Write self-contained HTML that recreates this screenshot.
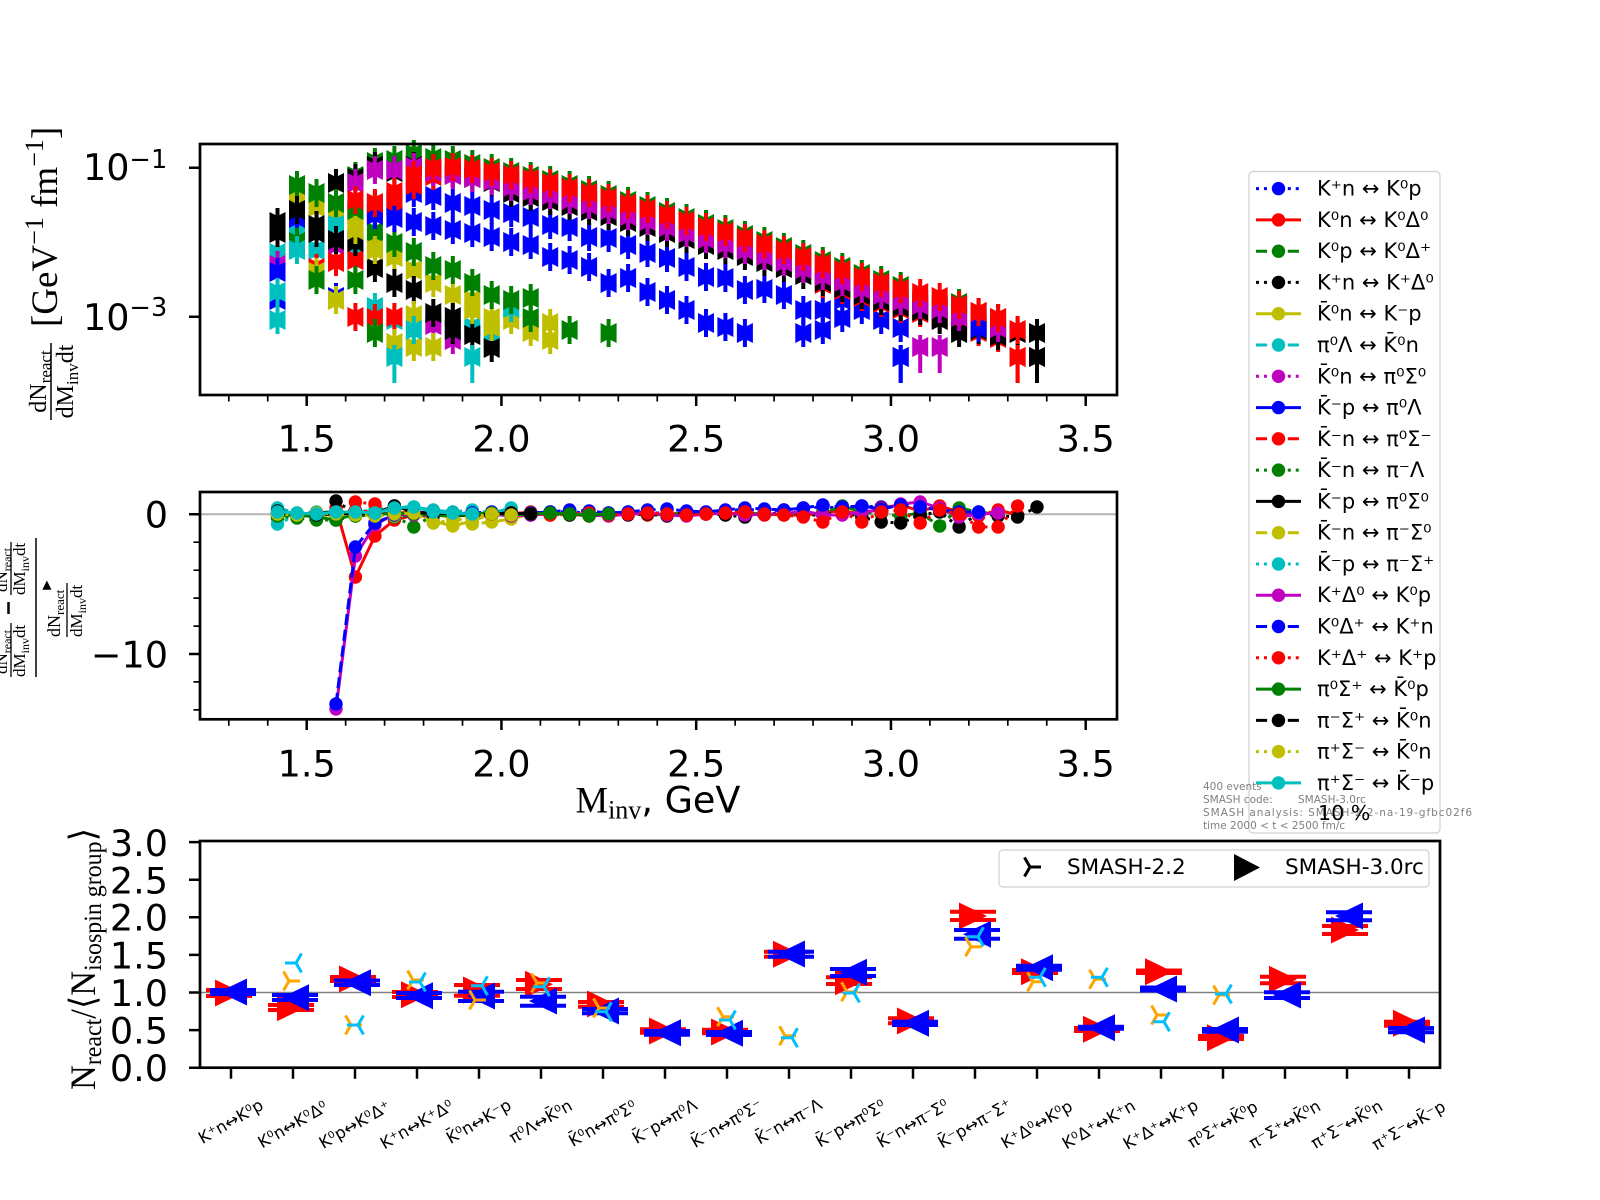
<!DOCTYPE html>
<html><head><meta charset="utf-8">
<style>
html,body{margin:0;padding:0;background:#fff;}
svg{display:block;}
.t{font-family:"DejaVu Sans","Liberation Sans",sans-serif;}
.s{font-family:"Liberation Serif","DejaVu Serif",serif;}
.p{fill:none;stroke:none;}
.l{fill:none;stroke-width:3;stroke-linejoin:round;}
.dot{stroke-dasharray:3 4.95;}
.dash{stroke-dasharray:11.1 4.8;}
.tb{marker-start:url(#mb);marker-mid:url(#mb);marker-end:url(#mb);}
.tr{marker-start:url(#mr);marker-mid:url(#mr);marker-end:url(#mr);}
.tg{marker-start:url(#mg);marker-mid:url(#mg);marker-end:url(#mg);}
.tk{marker-start:url(#mk);marker-mid:url(#mk);marker-end:url(#mk);}
.ty{marker-start:url(#my);marker-mid:url(#my);marker-end:url(#my);}
.tc{marker-start:url(#mc);marker-mid:url(#mc);marker-end:url(#mc);}
.tm{marker-start:url(#mm);marker-mid:url(#mm);marker-end:url(#mm);}
.Lb{marker-start:url(#lb);marker-mid:url(#lb);marker-end:url(#lb);}
.Lr{marker-start:url(#lr);marker-mid:url(#lr);marker-end:url(#lr);}
.Lk{marker-start:url(#lk);marker-mid:url(#lk);marker-end:url(#lk);}
.Lc{marker-start:url(#lc);marker-mid:url(#lc);marker-end:url(#lc);}
.Lm{marker-start:url(#lm);marker-mid:url(#lm);marker-end:url(#lm);}
.cb{stroke:#0000ff;marker-start:url(#qb);marker-mid:url(#qb);marker-end:url(#qb);}
.cr{stroke:#ff0000;marker-start:url(#qr);marker-mid:url(#qr);marker-end:url(#qr);}
.cg{stroke:#008000;marker-start:url(#qg);marker-mid:url(#qg);marker-end:url(#qg);}
.ck{stroke:#000000;marker-start:url(#qk);marker-mid:url(#qk);marker-end:url(#qk);}
.cy{stroke:#bfbf00;marker-start:url(#qy);marker-mid:url(#qy);marker-end:url(#qy);}
.cc{stroke:#00bfbf;marker-start:url(#qc);marker-mid:url(#qc);marker-end:url(#qc);}
.cm{stroke:#bf00bf;marker-start:url(#qm);marker-mid:url(#qm);marker-end:url(#qm);}
</style></head><body>
<svg width="1600" height="1200" viewBox="0 0 1600 1200" xmlns="http://www.w3.org/2000/svg">
<rect width="1600" height="1200" fill="#fff"/>
<defs>
<path id="bw" d="M-8,-10L0,-6L8,-10L8,10L0,6L-8,10Z"/>
<marker id="mb" viewBox="-10 -20 20 40" markerWidth="20" markerHeight="40" refX="0" refY="0" markerUnits="userSpaceOnUse" overflow="visible"><g fill="#0000ff"><use href="#bw"/><rect x="-2" y="-14" width="4" height="28"/></g></marker>
<marker id="mr" viewBox="-10 -20 20 40" markerWidth="20" markerHeight="40" refX="0" refY="0" markerUnits="userSpaceOnUse" overflow="visible"><g fill="#ff0000"><use href="#bw"/><rect x="-2" y="-14" width="4" height="28"/></g></marker>
<marker id="mg" viewBox="-10 -20 20 40" markerWidth="20" markerHeight="40" refX="0" refY="0" markerUnits="userSpaceOnUse" overflow="visible"><g fill="#008000"><use href="#bw"/><rect x="-2" y="-14" width="4" height="28"/></g></marker>
<marker id="mk" viewBox="-10 -20 20 40" markerWidth="20" markerHeight="40" refX="0" refY="0" markerUnits="userSpaceOnUse" overflow="visible"><g fill="#000000"><use href="#bw"/><rect x="-2" y="-14" width="4" height="28"/></g></marker>
<marker id="my" viewBox="-10 -20 20 40" markerWidth="20" markerHeight="40" refX="0" refY="0" markerUnits="userSpaceOnUse" overflow="visible"><g fill="#bfbf00"><use href="#bw"/><rect x="-2" y="-14" width="4" height="28"/></g></marker>
<marker id="mc" viewBox="-10 -20 20 40" markerWidth="20" markerHeight="40" refX="0" refY="0" markerUnits="userSpaceOnUse" overflow="visible"><g fill="#00bfbf"><use href="#bw"/><rect x="-2" y="-14" width="4" height="28"/></g></marker>
<marker id="mm" viewBox="-10 -20 20 40" markerWidth="20" markerHeight="40" refX="0" refY="0" markerUnits="userSpaceOnUse" overflow="visible"><g fill="#bf00bf"><use href="#bw"/><rect x="-2" y="-14" width="4" height="28"/></g></marker>
<marker id="lb" viewBox="-10 -20 20 60" markerWidth="20" markerHeight="60" refX="0" refY="0" markerUnits="userSpaceOnUse" overflow="visible"><g fill="#0000ff"><use href="#bw"/><rect x="-2" y="-12" width="4" height="38"/></g></marker>
<marker id="lr" viewBox="-10 -20 20 60" markerWidth="20" markerHeight="60" refX="0" refY="0" markerUnits="userSpaceOnUse" overflow="visible"><g fill="#ff0000"><use href="#bw"/><rect x="-2" y="-12" width="4" height="38"/></g></marker>
<marker id="lk" viewBox="-10 -20 20 60" markerWidth="20" markerHeight="60" refX="0" refY="0" markerUnits="userSpaceOnUse" overflow="visible"><g fill="#000000"><use href="#bw"/><rect x="-2" y="-12" width="4" height="38"/></g></marker>
<marker id="lc" viewBox="-10 -20 20 60" markerWidth="20" markerHeight="60" refX="0" refY="0" markerUnits="userSpaceOnUse" overflow="visible"><g fill="#00bfbf"><use href="#bw"/><rect x="-2" y="-12" width="4" height="38"/></g></marker>
<marker id="lm" viewBox="-10 -20 20 60" markerWidth="20" markerHeight="60" refX="0" refY="0" markerUnits="userSpaceOnUse" overflow="visible"><g fill="#bf00bf"><use href="#bw"/><rect x="-2" y="-12" width="4" height="38"/></g></marker>
<marker id="qb" viewBox="-8 -8 16 16" markerWidth="16" markerHeight="16" refX="0" refY="0" markerUnits="userSpaceOnUse"><circle r="6.7" fill="#0000ff"/></marker>
<marker id="qr" viewBox="-8 -8 16 16" markerWidth="16" markerHeight="16" refX="0" refY="0" markerUnits="userSpaceOnUse"><circle r="6.7" fill="#ff0000"/></marker>
<marker id="qg" viewBox="-8 -8 16 16" markerWidth="16" markerHeight="16" refX="0" refY="0" markerUnits="userSpaceOnUse"><circle r="6.7" fill="#008000"/></marker>
<marker id="qk" viewBox="-8 -8 16 16" markerWidth="16" markerHeight="16" refX="0" refY="0" markerUnits="userSpaceOnUse"><circle r="6.7" fill="#000000"/></marker>
<marker id="qy" viewBox="-8 -8 16 16" markerWidth="16" markerHeight="16" refX="0" refY="0" markerUnits="userSpaceOnUse"><circle r="6.7" fill="#bfbf00"/></marker>
<marker id="qc" viewBox="-8 -8 16 16" markerWidth="16" markerHeight="16" refX="0" refY="0" markerUnits="userSpaceOnUse"><circle r="6.7" fill="#00bfbf"/></marker>
<marker id="qm" viewBox="-8 -8 16 16" markerWidth="16" markerHeight="16" refX="0" refY="0" markerUnits="userSpaceOnUse"><circle r="6.7" fill="#bf00bf"/></marker>
<path id="TR" d="M-14,-13.5L14,0L-14,13.5Z" fill="#ff0000"/>
<path id="TL" d="M14,-13.5L-14,0L14,13.5Z" fill="#0000ff"/>
<path id="TO" d="M0,0H11M0,0L-5.5,-9.5M0,0L-5.5,9.5" stroke="#ffa500" stroke-width="3" fill="none"/>
<path id="TC" d="M0,0H-11M0,0L5.5,-9.5M0,0L5.5,9.5" stroke="#00bfff" stroke-width="3" fill="none"/>
</defs>

<!-- ================= TOP PLOT ================= -->
<g>
<polyline class="p tb" points="374.9,205 394.4,200 413.8,193 433.3,196 452.8,203 472.3,206 491.7,210 511.2,213 530.7,217 550.2,225 569.6,227 589.1,237 608.6,238 628.1,245 647.5,253 667,258 686.5,267 706,277 725.4,278 744.9,290 764.4,289 783.9,295 803.3,310 822.8,310 842.3,300 861.8,310 881.2,320 900.7,328"/>
<polyline class="p tr" points="355.4,213 374.9,215 394.4,205 413.8,185 433.3,176 452.8,173 472.3,175 491.7,178 511.2,181 530.7,185 550.2,189 569.6,194 589.1,199 608.6,204 628.1,210 647.5,215 667,221 686.5,227 706,233 725.4,238 744.9,244 764.4,250 783.9,256 803.3,263 822.8,284 842.3,290 861.8,297 881.2,303 900.7,309 920.2,313 939.7,317 959.1,325 978.6,332 998.1,338"/>
<polyline class="p tg" points="355.4,176 374.9,162 394.4,160 413.8,154 433.3,158 452.8,160 472.3,164 491.7,168 511.2,172 530.7,176 550.2,180 569.6,185 589.1,190 608.6,195 628.1,201 647.5,206 667,212 686.5,218 706,224 725.4,229 744.9,235 764.4,241 783.9,247 803.3,254 822.8,261 842.3,267 861.8,274 881.2,280 900.7,286 920.2,300 939.7,305 959.1,303 978.6,312 998.1,318"/>
<polyline class="p tk" points="336,183 355.4,178 374.9,166 394.4,172 413.8,166 433.3,170 452.8,174 472.3,178 491.7,182 511.2,193 530.7,197 550.2,201 569.6,206 589.1,211 608.6,216 628.1,222 647.5,227 667,233 686.5,239 706,245 725.4,250 744.9,256 764.4,262 783.9,268 803.3,275 822.8,282 842.3,288 861.8,295 881.2,301 900.7,307 920.2,311 939.7,320 959.1,333 978.6,330 998.1,336 1017.6,333 1037,333"/>
<polyline class="p ty" points="297,198 316.5,207 336,215 355.4,215 374.9,243 394.4,257 413.8,270 433.3,283 452.8,295 472.3,300 491.7,318 511.2,320 530.7,323 550.2,323"/>
<polyline class="p tc" points="277.5,253 297,228 316.5,250 336,225 355.4,255 374.9,307 394.4,320 472.3,327 491.7,338 511.2,308"/>
<polyline class="p tm" points="277.5,265 336,245 433.3,325 452.8,340"/>
<polyline class="p tb" points="277.5,272 277.5,300 297,218 336,297 355.4,238"/>
<polyline class="p tr" points="316.5,268 336,262 355.4,260 355.4,317 374.9,318 394.4,317"/>
<polyline class="p tg" points="277.5,230 297,185 316.5,193 336,203 355.4,210 374.9,232 394.4,243 413.8,252 433.3,266 452.8,270 472.3,283 491.7,295 530.7,298 569.6,330 608.6,333"/>
<polyline class="p tk" points="277.5,222 297,210 316.5,225 336,240 355.4,242 374.9,268 394.4,283 413.8,290 433.3,313 452.8,317 472.3,335 491.7,348"/>
<polyline class="p ty" points="316.5,272 336,300 394.4,343 413.8,315 433.3,347 491.7,327 530.7,332 550.2,340 413.8,347"/>
<polyline class="p tc" points="277.5,292 413.8,330"/>
<polyline class="p tm" points="355.4,183 374.9,170 394.4,170 413.8,167 433.3,172 452.8,175 472.3,178 491.7,181 511.2,187 530.7,191 550.2,195 569.6,200 589.1,205 608.6,210 628.1,216 647.5,221 667,227 686.5,233 706,239 725.4,244 744.9,250 764.4,256 783.9,262 803.3,269 822.8,276 842.3,282 861.8,289 881.2,295 900.7,301 920.2,305 939.7,309 959.1,317 978.6,324 998.1,328"/>
<polyline class="p tb" points="374.9,215 394.4,218 413.8,222 433.3,226 452.8,230 472.3,233 491.7,237 511.2,242 530.7,245 550.2,257 569.6,260 589.1,267 608.6,283 628.1,278 647.5,292 667,300 686.5,310 706,323 725.4,327 744.9,333 803.3,333 822.8,330 842.3,318 978.6,328"/>
<polyline class="p tr" points="355.4,200 374.9,203 394.4,192 413.8,175 433.3,168 452.8,167 472.3,169 491.7,172 511.2,175 530.7,179 550.2,183 569.6,188 589.1,193 608.6,198 628.1,204 647.5,209 667,215 686.5,221 706,227 725.4,232 744.9,238 764.4,244 783.9,250 803.3,257 822.8,264 842.3,270 861.8,277 881.2,283 900.7,289 920.2,293 939.7,297 959.1,305 978.6,312 998.1,318 1017.6,330"/>
<polyline class="p tg" points="297,242 316.5,280 355.4,280 374.9,333 530.7,318 511.2,300"/>
<polyline class="p tk" points="277.5,233 316.5,233 452.8,330"/>
<polyline class="p ty" points="355.4,230 374.9,250 472.3,310"/>
<polyline class="p tc" points="277.5,320 297,250"/>
<polyline class="p Lc" points="394.4,357 472.3,357"/>
<polyline class="p Lb" points="900.7,357 900.7,357"/>
<polyline class="p Lr" points="1017.6,357 1017.6,357"/>
<polyline class="p Lk" points="1037,357 1037,357"/>
<polyline class="p Lm" points="920.2,347 939.7,347"/>
</g>
<!-- top axes -->
<rect x="200" y="144" width="917" height="251" fill="none" stroke="#000" stroke-width="2.7"/>
<path d="M189,167.7H200M189,316.7H200" stroke="#000" stroke-width="2.5"/>
<path d="M306.7,395V406M501.45,395V406M696.2,395V406M890.95,395V406M1085.7,395V406" stroke="#000" stroke-width="2.5"/>
<path d="M228.8,395V401.5M267.75,395V401.5M345.65,395V401.5M384.6,395V401.5M423.55,395V401.5M462.5,395V401.5M540.4,395V401.5M579.35,395V401.5M618.3,395V401.5M657.25,395V401.5M735.15,395V401.5M774.1,395V401.5M813.05,395V401.5M852,395V401.5M929.9,395V401.5M968.85,395V401.5M1007.8,395V401.5M1046.75,395V401.5" stroke="#000" stroke-width="1.7"/>
<g class="t" font-size="36.6" fill="#000">
<text x="83" y="180">10<tspan font-size="25.6" dy="-12">−1</tspan></text>
<text x="83" y="330">10<tspan font-size="25.6" dy="-14">−3</tspan></text>
<g text-anchor="middle">
<text x="306.7" y="451.4">1.5</text><text x="501.45" y="451.4">2.0</text><text x="696.2" y="451.4">2.5</text><text x="890.95" y="451.4">3.0</text><text x="1085.7" y="451.4">3.5</text>
</g>
</g>
<!-- top ylabel -->
<g class="s" fill="#000">
<text font-size="24" text-anchor="middle" transform="translate(46,381.5) rotate(-90)">dN<tspan font-size="17" dy="5">react</tspan></text>
<line x1="51" y1="343" x2="51" y2="420" stroke="#000" stroke-width="1.5"/>
<text font-size="24" text-anchor="middle" transform="translate(73,381.5) rotate(-90)">dM<tspan font-size="17" dy="5">inv</tspan><tspan dy="-5">dt</tspan></text>
<text font-size="37" transform="translate(57,327) rotate(-90)">[GeV<tspan font-size="26" dy="-14">−1</tspan><tspan dy="14"> fm</tspan><tspan font-size="26" dy="-14">−1</tspan><tspan dy="14">]</tspan></text>
</g>

<!-- ================= MIDDLE PLOT ================= -->
<line x1="200" y1="514.3" x2="1117" y2="514.3" stroke="#b4b4b4" stroke-width="2"/>
<g>
<polyline class="l cb dot" points="355.4,512 374.9,514 394.4,513 413.8,514 433.3,512 452.8,515 472.3,513 491.7,514 511.2,512 530.7,515 550.2,513 569.6,511 589.1,514 608.6,515 628.1,513 647.5,512 667,514 686.5,515 706,513 725.4,511 744.9,509 764.4,511 783.9,510 803.3,508 822.8,507 842.3,508 861.8,506 881.2,507 900.7,505"/>
<polyline class="l cr" points="336,508 355.4,577 374.9,536 394.4,520 413.8,515 433.3,512 452.8,514 472.3,513 491.7,515 511.2,514 530.7,512 550.2,513 569.6,514 589.1,516 608.6,514 628.1,513 647.5,515 667,514 686.5,513 706,512 725.4,514 744.9,513 764.4,515 783.9,514 803.3,516 822.8,512 842.3,511 861.8,514 881.2,508 900.7,505 920.2,511 939.7,506 959.1,512 978.6,516 998.1,510 1017.6,515"/>
<polyline class="l cg dash" points="355.4,516 374.9,515 394.4,517 413.8,515 433.3,514 452.8,513 472.3,515 491.7,514 511.2,516 530.7,513 550.2,514 569.6,515 589.1,513 608.6,514 628.1,512 647.5,514 667,515 686.5,513 706,514 725.4,512 744.9,513 764.4,514 783.9,515 803.3,514 822.8,513 842.3,506 861.8,512 881.2,514 900.7,516 920.2,513 939.7,526 959.1,508 978.6,512 998.1,514"/>
<polyline class="l ck dot" points="336,501 355.4,514 374.9,515 394.4,506 413.8,510 433.3,513 452.8,516 472.3,514 491.7,515 511.2,513 530.7,514 550.2,512 569.6,515 589.1,514 608.6,513 628.1,515 647.5,514 667,516 686.5,513 706,514 725.4,515 744.9,517 764.4,514 783.9,513 803.3,515 822.8,515 842.3,512 861.8,517 881.2,522 900.7,523 920.2,515 939.7,512 959.1,527 978.6,513 998.1,516 1017.6,517 1037,507"/>
<polyline class="l cy" points="277.5,514 297,514 316.5,516 336,514 355.4,514 374.9,515 394.4,513 413.8,512 433.3,521 452.8,526 472.3,521 491.7,514 511.2,516 530.7,513 550.2,514"/>
<polyline class="l cc dash" points="277.5,508 297,513 316.5,512 336,512 355.4,512 374.9,510 394.4,507 413.8,507 433.3,510 452.8,512 472.3,510 491.7,513 511.2,508"/>
<polyline class="l cm dot" points="277.5,515 297,514 316.5,513 336,515 355.4,514 374.9,516 394.4,514 413.8,513 433.3,515 452.8,514 472.3,516 491.7,515 511.2,513 530.7,514"/>
<polyline class="l cb" points="277.5,514 297,515 316.5,514 336,513 355.4,515 374.9,514 394.4,513 413.8,515 433.3,514 452.8,513 472.3,514 491.7,515"/>
<polyline class="l cr dash" points="316.5,514 336,512 355.4,510 374.9,513 394.4,514 413.8,513 433.3,512 452.8,514 472.3,513"/>
<polyline class="l cg dot" points="277.5,518 297,518 316.5,520 336,520 355.4,516 374.9,514 394.4,516 413.8,527 433.3,515 452.8,514 472.3,516 491.7,515 511.2,514 530.7,513 550.2,515 569.6,514 589.1,516 608.6,515"/>
<polyline class="l ck" points="277.5,511 297,514 316.5,513 336,512 355.4,514 374.9,513 394.4,506 413.8,512 433.3,514 452.8,516 472.3,515 491.7,514 511.2,513 530.7,514"/>
<polyline class="l cy dash" points="277.5,515 297,513 316.5,514 336,515 355.4,514 374.9,513 394.4,516 413.8,512 433.3,515 452.8,517 472.3,524 491.7,522 511.2,519 530.7,514 550.2,515"/>
<polyline class="l cc dot" points="277.5,524 297,515 316.5,514 336,513 355.4,514 374.9,512 394.4,513 413.8,514 433.3,515 452.8,513 472.3,514"/>
<polyline class="l cm" points="336,709 355.4,556 374.9,525 394.4,514 413.8,515 433.3,516 452.8,514 472.3,515 491.7,514 511.2,516 530.7,515 550.2,514 569.6,513 589.1,515 608.6,516 628.1,514 647.5,513 667,515 686.5,516 706,514 725.4,513 744.9,515 764.4,514 783.9,514 803.3,511 822.8,515 842.3,515 861.8,512 881.2,510 900.7,504 920.2,502 939.7,508 959.1,517 978.6,514 998.1,513"/>
<polyline class="l cb dash" points="336,704 355.4,547 374.9,523 394.4,515 413.8,513 433.3,512 452.8,514 472.3,513 491.7,512 511.2,514 530.7,513 550.2,512 569.6,510 589.1,511 608.6,513 628.1,512 647.5,510 667,509 686.5,511 706,512 725.4,510 744.9,508 764.4,509 783.9,510 803.3,508 822.8,505 842.3,507 861.8,506 881.2,509 900.7,505 920.2,507 939.7,510 959.1,512 978.6,512"/>
<polyline class="l cr dot" points="355.4,502 374.9,504 394.4,512 413.8,514 433.3,513 452.8,514 472.3,515 491.7,514 511.2,513 530.7,514 550.2,515 569.6,514 589.1,513 608.6,515 628.1,514 647.5,513 667,514 686.5,515 706,514 725.4,513 744.9,512 764.4,514 783.9,515 803.3,517 822.8,522 842.3,512 861.8,522 881.2,512 900.7,510 920.2,523 939.7,510 959.1,514 978.6,527 998.1,527 1017.6,506"/>
<polyline class="l cg" points="277.5,516 297,515 316.5,517 336,520 355.4,514 374.9,515 394.4,513 413.8,514 433.3,515 452.8,516 472.3,514 491.7,513 511.2,515 530.7,514 550.2,513 569.6,514 589.1,515 608.6,514"/>
<polyline class="l ck dash" points="277.5,513 297,514 316.5,515 336,514 355.4,513 374.9,515 394.4,514 413.8,512 433.3,514 452.8,513 472.3,515 491.7,514 511.2,513 530.7,514"/>
<polyline class="l cy dot" points="277.5,514 297,515 316.5,513 336,514 355.4,515 374.9,516 394.4,514 413.8,513 433.3,523 452.8,520 472.3,517 491.7,514 511.2,515"/>
<polyline class="l cc" points="277.5,512 297,513 316.5,514 336,512 355.4,512 374.9,513 394.4,508 413.8,507 433.3,512 452.8,513 472.3,514"/>
</g>
<rect x="200" y="492" width="917" height="227.3" fill="none" stroke="#000" stroke-width="2.7"/>
<path d="M189,514.3H200M189,654H200" stroke="#000" stroke-width="2.5"/>
<path d="M193.5,542.2H200M193.5,570.2H200M193.5,598.1H200M193.5,626.1H200M193.5,681.9H200M193.5,709.9H200" stroke="#000" stroke-width="1.7"/>
<path d="M306.7,719.3V730M501.45,719.3V730M696.2,719.3V730M890.95,719.3V730M1085.7,719.3V730" stroke="#000" stroke-width="2.5"/>
<path d="M228.8,719.3V725.8M267.75,719.3V725.8M345.65,719.3V725.8M384.6,719.3V725.8M423.55,719.3V725.8M462.5,719.3V725.8M540.4,719.3V725.8M579.35,719.3V725.8M618.3,719.3V725.8M657.25,719.3V725.8M735.15,719.3V725.8M774.1,719.3V725.8M813.05,719.3V725.8M852,719.3V725.8M929.9,719.3V725.8M968.85,719.3V725.8M1007.8,719.3V725.8M1046.75,719.3V725.8" stroke="#000" stroke-width="1.7"/>
<g class="t" font-size="36.6" fill="#000">
<text x="168" y="527.6" text-anchor="end">0</text>
<text x="168" y="667.3" text-anchor="end">−10</text>
<g text-anchor="middle">
<text x="306.7" y="776.5">1.5</text><text x="501.45" y="776.5">2.0</text><text x="696.2" y="776.5">2.5</text><text x="890.95" y="776.5">3.0</text><text x="1085.7" y="776.5">3.5</text>
</g>
</g>
<text x="658" y="812.5" text-anchor="middle" font-size="36.6" fill="#000"><tspan class="s">M</tspan><tspan class="s" font-size="26" dy="6">inv</tspan><tspan class="t" dy="-6">, GeV</tspan></text>
<!-- middle ylabel -->
<g class="s" fill="#000">
<line x1="36" y1="538" x2="36" y2="677" stroke="#000" stroke-width="1.5"/>
<text font-size="18" transform="translate(60,637) rotate(-90)">dN<tspan font-size="13" dy="4">react</tspan><tspan font-size="12" dy="-14">▶</tspan></text>
<line x1="67" y1="583" x2="67" y2="637" stroke="#000" stroke-width="1.3"/>
<text font-size="17" transform="translate(82,637) rotate(-90)">dM<tspan font-size="12" dy="4">inv</tspan><tspan dy="-4">dt</tspan></text>
<text font-size="17" transform="translate(25,595) rotate(-90)">dM<tspan font-size="12" dy="4">inv</tspan><tspan dy="-4">dt</tspan></text>
<line x1="11" y1="542" x2="11" y2="595" stroke="#000" stroke-width="1.3"/>
<text font-size="17" transform="translate(7,592) rotate(-90)">dN<tspan font-size="12" dy="4">react</tspan></text>
<line x1="8.5" y1="602" x2="8.5" y2="614" stroke="#000" stroke-width="2.5"/>
<text font-size="17" transform="translate(25,677) rotate(-90)">dM<tspan font-size="12" dy="4">inv</tspan><tspan dy="-4">dt</tspan></text>
<line x1="11" y1="623" x2="11" y2="677" stroke="#000" stroke-width="1.3"/>
<text font-size="17" transform="translate(7,674) rotate(-90)">dN<tspan font-size="12" dy="4">react</tspan></text>
</g>

<!-- ================= LEGEND (right) ================= -->
<rect x="1249" y="171.5" width="191" height="661.5" rx="4" fill="#fff" stroke="#d0d0d0" stroke-width="1.2"/>
<g stroke-width="3" fill="none">
<line x1="1256" y1="188.6" x2="1301" y2="188.6" stroke="#0000ff" class="dot"/>
<line x1="1256" y1="219.9" x2="1301" y2="219.9" stroke="#ff0000"/>
<line x1="1256" y1="251.2" x2="1301" y2="251.2" stroke="#008000" class="dash"/>
<line x1="1256" y1="282.4" x2="1301" y2="282.4" stroke="#000000" class="dot"/>
<line x1="1256" y1="313.7" x2="1301" y2="313.7" stroke="#bfbf00"/>
<line x1="1256" y1="345.0" x2="1301" y2="345.0" stroke="#00bfbf" class="dash"/>
<line x1="1256" y1="376.3" x2="1301" y2="376.3" stroke="#bf00bf" class="dot"/>
<line x1="1256" y1="407.6" x2="1301" y2="407.6" stroke="#0000ff"/>
<line x1="1256" y1="438.8" x2="1301" y2="438.8" stroke="#ff0000" class="dash"/>
<line x1="1256" y1="470.1" x2="1301" y2="470.1" stroke="#008000" class="dot"/>
<line x1="1256" y1="501.4" x2="1301" y2="501.4" stroke="#000000"/>
<line x1="1256" y1="532.7" x2="1301" y2="532.7" stroke="#bfbf00" class="dash"/>
<line x1="1256" y1="564.0" x2="1301" y2="564.0" stroke="#00bfbf" class="dot"/>
<line x1="1256" y1="595.2" x2="1301" y2="595.2" stroke="#bf00bf"/>
<line x1="1256" y1="626.5" x2="1301" y2="626.5" stroke="#0000ff" class="dash"/>
<line x1="1256" y1="657.8" x2="1301" y2="657.8" stroke="#ff0000" class="dot"/>
<line x1="1256" y1="689.1" x2="1301" y2="689.1" stroke="#008000"/>
<line x1="1256" y1="720.4" x2="1301" y2="720.4" stroke="#000000" class="dash"/>
<line x1="1256" y1="751.6" x2="1301" y2="751.6" stroke="#bfbf00" class="dot"/>
</g>
<g>
<circle cx="1278.5" cy="188.6" r="6.7" fill="#0000ff"/>
<circle cx="1278.5" cy="219.9" r="6.7" fill="#ff0000"/>
<circle cx="1278.5" cy="251.2" r="6.7" fill="#008000"/>
<circle cx="1278.5" cy="282.4" r="6.7" fill="#000000"/>
<circle cx="1278.5" cy="313.7" r="6.7" fill="#bfbf00"/>
<circle cx="1278.5" cy="345.0" r="6.7" fill="#00bfbf"/>
<circle cx="1278.5" cy="376.3" r="6.7" fill="#bf00bf"/>
<circle cx="1278.5" cy="407.6" r="6.7" fill="#0000ff"/>
<circle cx="1278.5" cy="438.8" r="6.7" fill="#ff0000"/>
<circle cx="1278.5" cy="470.1" r="6.7" fill="#008000"/>
<circle cx="1278.5" cy="501.4" r="6.7" fill="#000000"/>
<circle cx="1278.5" cy="532.7" r="6.7" fill="#bfbf00"/>
<circle cx="1278.5" cy="564.0" r="6.7" fill="#00bfbf"/>
<circle cx="1278.5" cy="595.2" r="6.7" fill="#bf00bf"/>
<circle cx="1278.5" cy="626.5" r="6.7" fill="#0000ff"/>
<circle cx="1278.5" cy="657.8" r="6.7" fill="#ff0000"/>
<circle cx="1278.5" cy="689.1" r="6.7" fill="#008000"/>
<circle cx="1278.5" cy="720.4" r="6.7" fill="#000000"/>
<circle cx="1278.5" cy="751.6" r="6.7" fill="#bfbf00"/>
</g>
<g class="t" font-size="21" fill="#000">
<text x="1317" y="195.6">K⁺n ↔ K⁰p</text>
<text x="1317" y="226.9">K⁰n ↔ K⁰Δ⁰</text>
<text x="1317" y="258.2">K⁰p ↔ K⁰Δ⁺</text>
<text x="1317" y="289.4">K⁺n ↔ K⁺Δ⁰</text>
<text x="1317" y="320.7">K̄⁰n ↔ K⁻p</text>
<text x="1317" y="352.0">π⁰Λ ↔ K̄⁰n</text>
<text x="1317" y="383.3">K̄⁰n ↔ π⁰Σ⁰</text>
<text x="1317" y="414.6">K̄⁻p ↔ π⁰Λ</text>
<text x="1317" y="445.8">K̄⁻n ↔ π⁰Σ⁻</text>
<text x="1317" y="477.1">K̄⁻n ↔ π⁻Λ</text>
<text x="1317" y="508.4">K̄⁻p ↔ π⁰Σ⁰</text>
<text x="1317" y="539.7">K̄⁻n ↔ π⁻Σ⁰</text>
<text x="1317" y="571.0">K̄⁻p ↔ π⁻Σ⁺</text>
<text x="1317" y="602.2">K⁺Δ⁰ ↔ K⁰p</text>
<text x="1317" y="633.5">K⁰Δ⁺ ↔ K⁺n</text>
<text x="1317" y="664.8">K⁺Δ⁺ ↔ K⁺p</text>
<text x="1317" y="696.1">π⁰Σ⁺ ↔ K̄⁰p</text>
<text x="1317" y="727.4">π⁻Σ⁺ ↔ K̄⁰n</text>
<text x="1317" y="758.6">π⁺Σ⁻ ↔ K̄⁰n</text>
<text x="1317" y="789.9">π⁺Σ⁻ ↔ K̄⁻p</text>
</g>
<g class="t" font-size="10.5" fill="#808080">
<text x="1203" y="790">400 events</text>
<text x="1203" y="803">SMASH code:</text>
<text x="1298" y="803">SMASH-3.0rc</text>
<text x="1203" y="816" textLength="269">SMASH analysis: SMASH-2.2-na-19-gfbc02f6</text>
<text x="1203" y="829">time 2000 &lt; t &lt; 2500 fm/c</text>
</g>
<line x1="1256" y1="782.9" x2="1301" y2="782.9" stroke="#00bfbf" stroke-width="3"/>
<circle cx="1278.5" cy="782.9" r="6.7" fill="#00bfbf"/>
<text class="t" x="1318" y="820" font-size="20.6" fill="#000">10 %</text>

<!-- ================= BOTTOM PLOT ================= -->
<line x1="200" y1="992.5" x2="1440" y2="992.5" stroke="#808080" stroke-width="1.5"/>
<g stroke-width="4" fill="none">
<path d="M206,990h46M206,996h46" stroke="#f00"/><use href="#TR" x="229" y="993"/>
<path d="M210,990h46M210,994h46" stroke="#00f"/><use href="#TL" x="233" y="992"/>
<path d="M268,1005h46M268,1010h46" stroke="#f00"/><use href="#TR" x="291" y="1007.7"/>
<path d="M272,995h46M272,1000h46" stroke="#00f"/><use href="#TL" x="295" y="997.7"/>
<path d="M330,977h46M330,981h46" stroke="#f00"/><use href="#TR" x="353" y="979"/>
<path d="M334,980.5h46M334,985h46" stroke="#00f"/><use href="#TL" x="357" y="982.7"/>
<path d="M392,992h46M392,997h46" stroke="#f00"/><use href="#TR" x="415" y="994.7"/>
<path d="M396,993h46M396,998h46" stroke="#00f"/><use href="#TL" x="419" y="995.7"/>
<path d="M454,985h46M454,995.7h46" stroke="#f00"/><use href="#TR" x="477" y="990"/>
<path d="M458,991.7h46M458,1001h46" stroke="#00f"/><use href="#TL" x="481" y="996"/>
<path d="M516,980h46M516,989h46" stroke="#f00"/><use href="#TR" x="539" y="984.3"/>
<path d="M520,996.7h46M520,1005.7h46" stroke="#00f"/><use href="#TL" x="543" y="1001"/>
<path d="M578,1002h46M578,1006.7h46" stroke="#f00"/><use href="#TR" x="601" y="1004"/>
<path d="M582,1009h46M582,1013.3h46" stroke="#00f"/><use href="#TL" x="605" y="1011"/>
<path d="M640,1029.3h46M640,1032.7h46" stroke="#f00"/><use href="#TR" x="663" y="1031"/>
<path d="M644,1031h46M644,1034.7h46" stroke="#00f"/><use href="#TL" x="667" y="1032.7"/>
<path d="M702,1029.7h46M702,1033.3h46" stroke="#f00"/><use href="#TR" x="725" y="1032"/>
<path d="M706,1032h46M706,1035h46" stroke="#00f"/><use href="#TL" x="729" y="1033.3"/>
<path d="M764,951.7h46M764,956.7h46" stroke="#f00"/><use href="#TR" x="787" y="954.3"/>
<path d="M768,951.7h46M768,956.7h46" stroke="#00f"/><use href="#TL" x="791" y="954"/>
<path d="M826,977.3h46M826,984h46" stroke="#f00"/><use href="#TR" x="849" y="981.7"/>
<path d="M830,969h46M830,976h46" stroke="#00f"/><use href="#TL" x="853" y="972.3"/>
<path d="M888,1018.3h46M888,1023.3h46" stroke="#f00"/><use href="#TR" x="911" y="1021"/>
<path d="M892,1021.7h46M892,1025h46" stroke="#00f"/><use href="#TL" x="915" y="1023.3"/>
<path d="M950,911.7h46M950,920h46" stroke="#f00"/><use href="#TR" x="973" y="916"/>
<path d="M954,930h46M954,938.7h46" stroke="#00f"/><use href="#TL" x="977" y="934.3"/>
<path d="M1012,970h46M1012,973h46" stroke="#f00"/><use href="#TR" x="1035" y="971.7"/>
<path d="M1016,965.7h46M1016,969.7h46" stroke="#00f"/><use href="#TL" x="1039" y="967.7"/>
<path d="M1074,1028h46M1074,1031h46" stroke="#f00"/><use href="#TR" x="1097" y="1029.3"/>
<path d="M1078,1026.7h46M1078,1028.7h46" stroke="#00f"/><use href="#TL" x="1101" y="1027.7"/>
<path d="M1136,970.5h46M1136,973h46" stroke="#f00"/><use href="#TR" x="1159" y="971.7"/>
<path d="M1140,987.5h46M1140,990.5h46" stroke="#00f"/><use href="#TL" x="1163" y="989"/>
<path d="M1198,1036h46M1198,1039h46" stroke="#f00"/><use href="#TR" x="1221" y="1037.7"/>
<path d="M1202,1029h46M1202,1031.7h46" stroke="#00f"/><use href="#TL" x="1225" y="1030"/>
<path d="M1260,976.7h46M1260,983.3h46" stroke="#f00"/><use href="#TR" x="1283" y="979.3"/>
<path d="M1264,992.3h46M1264,998h46" stroke="#00f"/><use href="#TL" x="1287" y="995"/>
<path d="M1322,926h46M1322,934h46" stroke="#f00"/><use href="#TR" x="1345" y="930"/>
<path d="M1326,912.3h46M1326,920.3h46" stroke="#00f"/><use href="#TL" x="1349" y="916"/>
<path d="M1384,1021.7h46M1384,1025.7h46" stroke="#f00"/><use href="#TR" x="1407" y="1023.3"/>
<path d="M1388,1028h46M1388,1032.3h46" stroke="#00f"/><use href="#TL" x="1411" y="1030"/>
</g>
<g>
<use href="#TO" x="289" y="981"/><use href="#TC" x="296" y="963"/>
<use href="#TO" x="351" y="1025"/><use href="#TC" x="358" y="1025"/>
<use href="#TO" x="413" y="980"/><use href="#TC" x="420" y="982"/>
<use href="#TO" x="475" y="1000"/><use href="#TC" x="482" y="985.7"/>
<use href="#TO" x="537" y="983"/><use href="#TC" x="544" y="986.7"/>
<use href="#TO" x="599" y="1008"/><use href="#TC" x="606" y="1011.7"/>
<use href="#TO" x="723" y="1016.7"/><use href="#TC" x="730" y="1020"/>
<use href="#TO" x="785" y="1035.7"/><use href="#TC" x="792" y="1037.7"/>
<use href="#TO" x="847" y="991.7"/><use href="#TC" x="854" y="993"/>
<use href="#TO" x="971" y="946.7"/><use href="#TC" x="978" y="936.7"/>
<use href="#TO" x="1033" y="981.7"/><use href="#TC" x="1040" y="977.3"/>
<use href="#TO" x="1095" y="979.3"/><use href="#TC" x="1102" y="977.3"/>
<use href="#TO" x="1157" y="1015"/><use href="#TC" x="1164" y="1021.7"/>
<use href="#TO" x="1219" y="995"/><use href="#TC" x="1226" y="994"/>
</g>
<!-- bottom legend -->
<rect x="999" y="850" width="430" height="37" rx="4" fill="#fff" stroke="#d0d0d0" stroke-width="1.2"/>
<path d="M1030,867H1041M1030,867L1024.5,857.5M1030,867L1024.5,876.5" stroke="#000" stroke-width="3" fill="none"/>
<path d="M1234,854L1260,867.5L1234,881Z" fill="#000"/>
<g class="t" font-size="21.5" fill="#000">
<text x="1067" y="874">SMASH-2.2</text>
<text x="1285" y="874">SMASH-3.0rc</text>
</g>
<!-- bottom axes -->
<rect x="200" y="841" width="1240" height="226.7" fill="none" stroke="#000" stroke-width="2.7"/>
<path d="M189,842.1H200M189,879.7H200M189,917.3H200M189,954.9H200M189,992.5H200M189,1030.1H200M189,1067.7H200" stroke="#000" stroke-width="2.5"/>
<path d="M231,1067.7v11M293,1067.7v11M355,1067.7v11M417,1067.7v11M479,1067.7v11M541,1067.7v11M603,1067.7v11M665,1067.7v11M727,1067.7v11M789,1067.7v11M851,1067.7v11M913,1067.7v11M975,1067.7v11M1037,1067.7v11M1099,1067.7v11M1161,1067.7v11M1223,1067.7v11M1285,1067.7v11M1347,1067.7v11M1409,1067.7v11" stroke="#000" stroke-width="2.5"/>
<g class="t" font-size="36.6" fill="#000" text-anchor="end">
<text x="168" y="856">3.0</text>
<text x="168" y="893.3">2.5</text>
<text x="168" y="930.7">2.0</text>
<text x="168" y="968.3">1.5</text>
<text x="168" y="1005.8">1.0</text>
<text x="168" y="1043.4">0.5</text>
<text x="168" y="1081">0.0</text>
</g>
<g class="t" font-size="16.5" fill="#000" text-anchor="middle">
<text transform="translate(231,1122) rotate(-30)" dy="5">K⁺n↔K⁰p</text>
<text transform="translate(293,1125) rotate(-30)" dy="5">K⁰n↔K⁰Δ⁰</text>
<text transform="translate(355,1125) rotate(-30)" dy="5">K⁰p↔K⁰Δ⁺</text>
<text transform="translate(417,1125) rotate(-30)" dy="5">K⁺n↔K⁺Δ⁰</text>
<text transform="translate(479,1122) rotate(-30)" dy="5">K̄⁰n↔K⁻p</text>
<text transform="translate(541,1122) rotate(-30)" dy="5">π⁰Λ↔K̄⁰n</text>
<text transform="translate(603,1124) rotate(-30)" dy="5">K̄⁰n↔π⁰Σ⁰</text>
<text transform="translate(665,1122) rotate(-30)" dy="5">K̄⁻p↔π⁰Λ</text>
<text transform="translate(727,1124) rotate(-30)" dy="5">K̄⁻n↔π⁰Σ⁻</text>
<text transform="translate(789,1122) rotate(-30)" dy="5">K̄⁻n↔π⁻Λ</text>
<text transform="translate(851,1124) rotate(-30)" dy="5">K̄⁻p↔π⁰Σ⁰</text>
<text transform="translate(913,1124) rotate(-30)" dy="5">K̄⁻n↔π⁻Σ⁰</text>
<text transform="translate(975,1124) rotate(-30)" dy="5">K̄⁻p↔π⁻Σ⁺</text>
<text transform="translate(1037,1125) rotate(-30)" dy="5">K⁺Δ⁰↔K⁰p</text>
<text transform="translate(1099,1125) rotate(-30)" dy="5">K⁰Δ⁺↔K⁺n</text>
<text transform="translate(1161,1125) rotate(-30)" dy="5">K⁺Δ⁺↔K⁺p</text>
<text transform="translate(1223,1125) rotate(-30)" dy="5">π⁰Σ⁺↔K̄⁰p</text>
<text transform="translate(1285,1125) rotate(-30)" dy="5">π⁻Σ⁺↔K̄⁰n</text>
<text transform="translate(1347,1125) rotate(-30)" dy="5">π⁺Σ⁻↔K̄⁰n</text>
<text transform="translate(1409,1126) rotate(-30)" dy="5">π⁺Σ⁻↔K̄⁻p</text>
</g>
<!-- bottom ylabel -->
<text class="s" font-size="36" fill="#000" transform="translate(95,1090) rotate(-90)" textLength="262" lengthAdjust="spacingAndGlyphs">N<tspan font-size="25" dy="6">react</tspan><tspan dy="-6">/⟨N</tspan><tspan font-size="25" dy="6">isospin group</tspan><tspan dy="-6">⟩</tspan></text>
</svg>
</body></html>
